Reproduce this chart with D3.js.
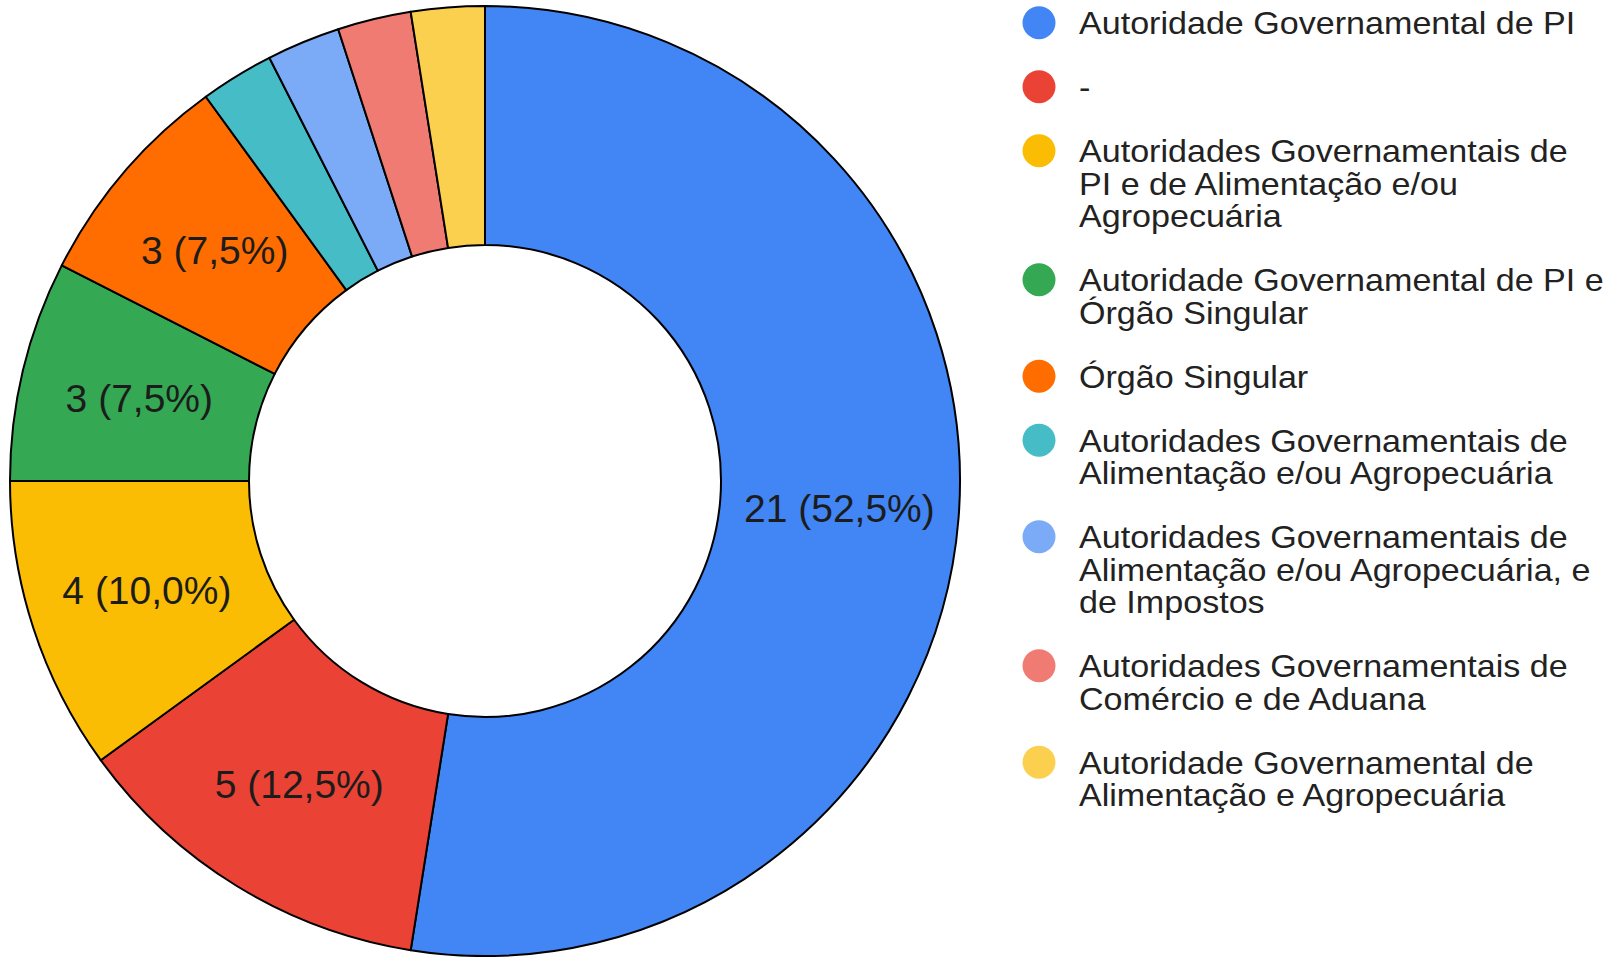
<!DOCTYPE html>
<html>
<head>
<meta charset="utf-8">
<script src="https://cdn.jsdelivr.net/npm/d3@7"></script>
<style>
  html, body { margin: 0; padding: 0; background: #fff; }
  svg { display: block; }
</style>
</head>
<body>
<svg id="chart" width="1618" height="957"></svg>
<script>
// ---- data ----
const categories = [
  "Autoridade Governamental de PI",
  "-",
  "Autoridades Governamentais de\nPI e de Alimentação e/ou\nAgropecuária",
  "Autoridade Governamental de PI e\nÓrgão Singular",
  "Órgão Singular",
  "Autoridades Governamentais de\nAlimentação e/ou Agropecuária",
  "Autoridades Governamentais de\nAlimentação e/ou Agropecuária, e\nde Impostos",
  "Autoridades Governamentais de\nComércio e de Aduana",
  "Autoridade Governamental de\nAlimentação e Agropecuária"
];
const values = [21, 5, 4, 3, 3, 1, 1, 1, 1];
const colors = ["#4285F4", "#EA4335", "#FBBC04", "#34A853", "#FF6D01", "#46BDC6", "#7BAAF7", "#F07B72", "#FCD04F"];

// ---- layout ----
const svg = d3.select("#chart");
const cx = 485, cy = 481, outerR = 475, innerR = 236;
const total = d3.sum(values);
const data = values.map((v, i) => ({ name: categories[i], value: v, color: colors[i] }));

const pie = d3.pie().value(d => d.value).sort(null).startAngle(0).endAngle(2 * Math.PI);
const arcs = pie(data);
const arc = d3.arc().innerRadius(innerR).outerRadius(outerR);

const g = svg.append("g").attr("transform", `translate(${cx},${cy})`);
g.selectAll("path.slice")
  .data(arcs)
  .join("path")
  .attr("class", "slice")
  .attr("d", arc)
  .attr("fill", d => d.data.color)
  .attr("stroke", "#000")
  .attr("stroke-width", 2)
  .attr("stroke-linejoin", "round");

const fmt = v => `${v} (${(v / total * 100).toFixed(1).replace(".", ",")}%)`;
g.selectAll("text.lbl")
  .data(arcs.filter(d => d.data.value / total > 0.05))
  .join("text")
  .attr("class", "lbl")
  .attr("transform", d => `translate(${arc.centroid(d)})`)
  .attr("text-anchor", "middle")
  .attr("dominant-baseline", "central")
  .attr("font-family", "'Liberation Sans', Arial, sans-serif")
  .attr("font-size", 39)
  .attr("fill", "#1c1c1c")
  .text(d => fmt(d.data.value));

// ---- legend ----
const legend = svg.append("g");
const lineH = 32.5, gap = 31.5, markerX = 1039, textX = 1079, markerR = 16.5, sx = 1.118;
let y = 22.7;
data.forEach((d, i) => {
  const lines = d.name.split("\n");
  const item = legend.append("g");
  item.append("circle")
    .attr("cx", markerX).attr("cy", y).attr("r", markerR)
    .attr("fill", d.color);
  const t = item.append("text")
    .attr("transform", `translate(${textX},0) scale(${sx},1)`)
    .attr("font-family", "'Liberation Sans', Arial, sans-serif")
    .attr("font-size", 30.5)
    .attr("fill", "#222");
  lines.forEach((ln, k) => {
    t.append("tspan").attr("x", 0).attr("y", y + 11.5 + k * lineH).text(ln);
  });
  y += lines.length * lineH + gap;
});
</script>
</body>
</html>
